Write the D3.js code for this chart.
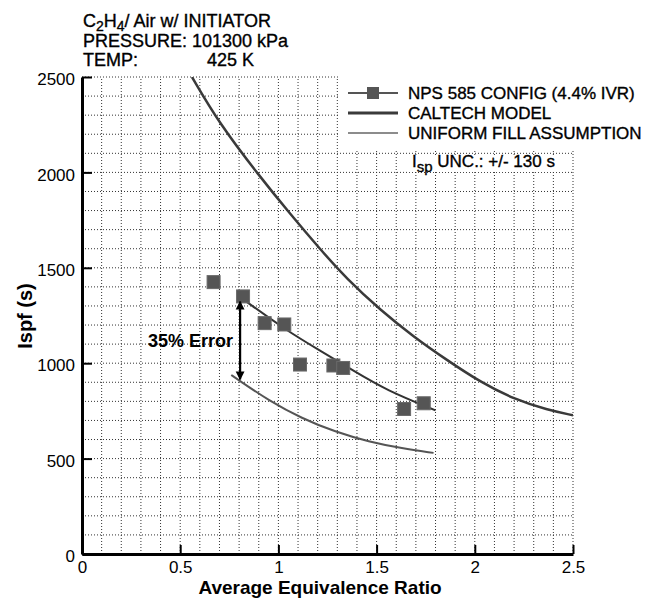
<!doctype html>
<html lang="en">
<head>
  <meta charset="utf-8">
  <title>Ispf vs Average Equivalence Ratio</title>
  <style>
  body { margin: 0; background: #fff; }
  svg { display: block; font-family: "Liberation Sans", Arial, sans-serif; }
  .grid line { stroke: #333; stroke-width: 1; stroke-dasharray: 1,2; }
  .axis path { stroke: #000; stroke-width: 3; }
  .axis line { stroke: #000; stroke-width: 2; }
  .axis text { font-size: 17px; fill: #000; }
  .heavy { stroke: #000; stroke-width: 0.35px; }
  </style>
</head>
<body>
  <div id="chart"></div>
  <script src="https://cdn.jsdelivr.net/npm/d3@7"></script>
  <script>
    // NPS 585 config measurements
    var npsPhi = [0.67, 0.82, 0.93, 1.03, 1.11, 1.28, 1.33, 1.64, 1.74];
    var npsIsp = [1425, 1350, 1210, 1203, 993, 988, 975, 760, 790];

    // curve drawn through the NPS points
    var fitPhi = [0.83, 1.04, 1.21, 1.38, 1.55, 1.80];
    var fitIsp = [1328, 1172, 1067, 962, 858, 753];

    // caltech model
    var calPhi = [0.56, 0.70, 0.90, 1.06, 1.21, 1.35, 1.52, 1.69, 1.86, 2.03, 2.20, 2.37, 2.50];
    var calIsp = [2500, 2255, 1985, 1782, 1600, 1440, 1278, 1137, 1015, 900, 811, 755, 727];

    // uniform fill assumption
    var uniPhi = [0.76, 0.80, 0.95, 1.12, 1.29, 1.46, 1.63, 1.79];
    var uniIsp = [938, 910, 805, 710, 640, 588, 553, 530];

    // 35% error arrow
    var errPhi = 0.805;
    var errIsp = [1328, 910];

    var xMajor = [0, 0.5, 1, 1.5, 2, 2.5];
    var yMajor = [0, 500, 1000, 1500, 2000, 2500];

    var width = 649, height = 598;
    var x = d3.scaleLinear().domain([0, 2.5]).range([82, 573]);
    var y = d3.scaleLinear().domain([0, 2500]).range([554, 77]);

    var xMinor = d3.range(0, 26).map(function(i) { return i / 10; });
    var yMinor = d3.range(0, 26).map(function(i) { return i * 100; });

    var svg = d3.select("#chart").append("svg")
        .attr("width", width)
        .attr("height", height);

    var zip = function(a, b) { return a.map(function(v, i) { return [v, b[i]]; }); };

    // grid
    var grid = svg.append("g").attr("class", "grid");
    grid.selectAll(".gx").data(xMinor.slice(1)).enter().append("line")
        .attr("x1", x).attr("x2", x)
        .attr("y1", y(0)).attr("y2", y(2500));
    grid.selectAll(".gy").data(yMinor.slice(1)).enter().append("line")
        .attr("x1", x(0)).attr("x2", x(2.5))
        .attr("y1", y).attr("y2", y);

    // legend and note backgrounds cover the grid
    svg.append("rect").attr("x", 340).attr("y", 70).attr("width", 309).attr("height", 80).attr("fill", "#fff");
    svg.append("rect").attr("x", 407).attr("y", 156).attr("width", 158).attr("height", 16).attr("fill", "#fff");

    svg.append("clipPath").attr("id", "plot")
      .append("rect").attr("x", x(0)).attr("y", y(2500))
      .attr("width", x(2.5) - x(0)).attr("height", y(0) - y(2500));

    var line = d3.line()
        .x(function(d) { return x(d[0]); })
        .y(function(d) { return y(d[1]); })
        .curve(d3.curveBasis);

    var curves = svg.append("g").attr("clip-path", "url(#plot)").attr("fill", "none");
    curves.append("path").datum(zip(calPhi, calIsp)).attr("d", line)
        .attr("stroke", "#3a3a3a").attr("stroke-width", 2.5);
    curves.append("path").datum(zip(fitPhi, fitIsp)).attr("d", line)
        .attr("stroke", "#333").attr("stroke-width", 2);
    curves.append("path").datum(zip(uniPhi, uniIsp)).attr("d", line)
        .attr("stroke", "#555").attr("stroke-width", 2);

    // points
    svg.append("g").selectAll("rect").data(zip(npsPhi, npsIsp)).enter().append("rect")
        .attr("x", function(d) { return x(d[0]) - 6.5; })
        .attr("y", function(d) { return y(d[1]) - 6.5; })
        .attr("width", 13).attr("height", 13)
        .attr("fill", "#555").attr("stroke", "#6a6a6a").attr("stroke-width", 1);

    // axes
    var xAxis = svg.append("g").attr("class", "axis").attr("transform", "translate(0," + y(0) + ")");
    xAxis.call(d3.axisBottom(x).tickValues(xMinor).tickSize(-5).tickSizeOuter(0).tickFormat(""));
    xAxis.call(d3.axisBottom(x).tickValues(xMajor).tickSize(-9).tickSizeOuter(0).tickPadding(7)
        .tickFormat(d3.format("")));

    var yAxis = svg.append("g").attr("class", "axis").attr("transform", "translate(" + x(0) + ",0)");
    yAxis.call(d3.axisLeft(y).tickValues(yMinor).tickSize(-6).tickSizeOuter(0).tickFormat(""));
    yAxis.call(d3.axisLeft(y).tickValues(yMajor).tickSize(-10).tickSizeOuter(0).tickPadding(7)
        .tickFormat(d3.format("d")));
    yAxis.selectAll(".tick text").attr("dy", "0.45em");
    svg.selectAll(".axis .domain").attr("stroke-width", 3);

    // error arrow
    var defs = svg.append("defs");
    defs.append("marker").attr("id", "head")
        .attr("viewBox", "0 0 10 10").attr("refX", 9).attr("refY", 5)
        .attr("markerWidth", 4).attr("markerHeight", 5).attr("orient", "auto-start-reverse")
        .attr("markerUnits", "strokeWidth")
      .append("path").attr("d", "M0,0L10,5L0,10Z").attr("fill", "#000");
    svg.append("line")
        .attr("x1", x(errPhi)).attr("x2", x(errPhi))
        .attr("y1", y(errIsp[0]) + 1).attr("y2", y(errIsp[1]) - 1)
        .attr("stroke", "#000").attr("stroke-width", 2.2)
        .attr("marker-start", "url(#head)").attr("marker-end", "url(#head)");
    svg.append("text").attr("x", 233).attr("y", 347).attr("text-anchor", "end")
        .attr("font-size", 18).attr("font-weight", "bold").text("35% Error");

    // title block
    var title = svg.append("g").attr("font-size", 18).attr("fill", "#000").attr("class", "heavy");
    var t1 = title.append("text").attr("x", 83).attr("y", 27);
    t1.append("tspan").text("C");
    t1.append("tspan").attr("font-size", 14).attr("baseline-shift", "-4px").text("2");
    t1.append("tspan").text("H");
    t1.append("tspan").attr("font-size", 14).attr("baseline-shift", "-4px").text("4");
    t1.append("tspan").text("/ Air w/ INITIATOR");
    title.append("text").attr("x", 83).attr("y", 47).text("PRESSURE: 101300 kPa");
    title.append("text").attr("x", 83).attr("y", 66).text("TEMP:");
    title.append("text").attr("x", 207).attr("y", 66).text("425 K");

    // legend
    var legend = svg.append("g").attr("font-size", 17).attr("class", "heavy");
    var rows = [
      { label: "NPS 585 CONFIG (4.4% IVR)", color: "#555", w: 2, mark: true },
      { label: "CALTECH MODEL", color: "#3a3a3a", w: 3, mark: false },
      { label: "UNIFORM FILL ASSUMPTION", color: "#666", w: 1.6, mark: false }
    ];
    rows.forEach(function(r, i) {
      var ry = 93 + i * 20;
      legend.append("line").attr("x1", 348).attr("x2", 398).attr("y1", ry).attr("y2", ry)
          .attr("stroke", r.color).attr("stroke-width", r.w);
      if (r.mark) {
        legend.append("rect").attr("x", 367).attr("y", ry - 6).attr("width", 12).attr("height", 12)
            .attr("fill", "#555").attr("stroke", "none");
      }
      legend.append("text").attr("x", 408).attr("y", ry + 6).text(r.label);
    });

    var unc = svg.append("text").attr("x", 412).attr("y", 167).attr("font-size", 17).attr("class", "heavy");
    unc.append("tspan").text("I");
    unc.append("tspan").attr("font-size", 15).attr("baseline-shift", "-5px").text("sp");
    unc.append("tspan").text(" UNC.: +/- 130 s");

    // axis titles
    svg.append("text").attr("x", 320).attr("y", 594).attr("text-anchor", "middle")
        .attr("font-size", 19).attr("font-weight", "bold").text("Average Equivalence Ratio");
    svg.append("text").attr("transform", "translate(32,316) rotate(-90)").attr("text-anchor", "middle")
        .attr("font-size", 20).attr("font-weight", "bold").text("Ispf (s)");
  </script>
</body>
</html>
